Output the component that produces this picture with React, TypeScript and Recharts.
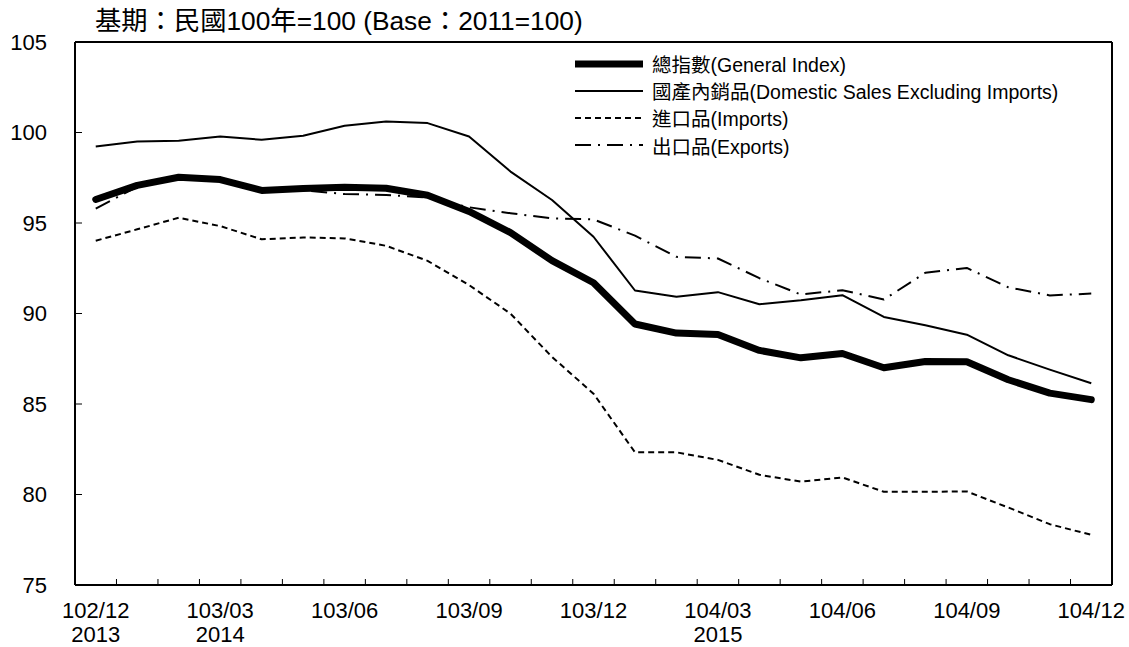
import React from 'react';
import { LineChart, Line, XAxis, YAxis, Legend } from 'recharts';

const FONT = '"Liberation Sans", Arial, "Noto Sans CJK TC", sans-serif';

const months = [
  '102/12', '103/01', '103/02', '103/03', '103/04', '103/05', '103/06', '103/07', '103/08',
  '103/09', '103/10', '103/11', '103/12', '104/01', '104/02', '104/03', '104/04', '104/05',
  '104/06', '104/07', '104/08', '104/09', '104/10', '104/11', '104/12',
];

// western year shown under the first labelled month of each year
const westernYears: Record<string, string> = { '102/12': '2013', '103/03': '2014', '104/03': '2015' };

const generalIndex = [
  96.3, 97.08, 97.53, 97.4, 96.8, 96.9, 96.98, 96.92, 96.53, 95.64, 94.47, 92.92, 91.7,
  89.42, 88.92, 88.84, 87.96, 87.55, 87.79, 87.0, 87.35, 87.33, 86.34, 85.6, 85.24,
];
const domesticSales = [
  99.23, 99.5, 99.54, 99.78, 99.6, 99.82, 100.37, 100.61, 100.52, 99.78, 97.84, 96.27, 94.24,
  91.27, 90.92, 91.18, 90.51, 90.73, 91.01, 89.81, 89.35, 88.83, 87.69, 86.9, 86.15,
];
const imports = [
  94.02, 94.65, 95.29, 94.83, 94.1, 94.2, 94.15, 93.74, 92.91, 91.57, 89.99, 87.6, 85.57,
  82.33, 82.33, 81.91, 81.09, 80.71, 80.94, 80.15, 80.15, 80.17, 79.28, 78.36, 77.77,
];
const exportsIdx = [
  95.8, 97.0, 97.62, 97.5, 96.85, 96.8, 96.6, 96.55, 96.4, 95.87, 95.54, 95.26, 95.2,
  94.3, 93.13, 93.04, 91.95, 91.05, 91.29, 90.77, 92.25, 92.52, 91.45, 91.0, 91.1,
];

const yTicks = [75, 80, 85, 90, 95, 100, 105];
// tick marks sit between months (category boundaries)
const boundaryTicks = months.slice(1).map((_, i) => i + 0.5);

const series = [
  { key: 'general', name: '總指數(General Index)', width: 7, dash: undefined as string | undefined },
  { key: 'domestic', name: '國產內銷品(Domestic Sales Excluding Imports)', width: 2, dash: undefined },
  { key: 'imports', name: '進口品(Imports)', width: 2, dash: '6 4' },
  { key: 'exports', name: '出口品(Exports)', width: 2, dash: '16 7 2 7' },
];

const data = months.map((m, i) => ({
  month: m,
  general: generalIndex[i],
  domestic: domesticSales[i],
  imports: imports[i],
  exports: exportsIdx[i],
}));

const HALF_BAND = 20.74;

function MonthTick({ x, y, payload }: any) {
  const year = westernYears[payload.value];
  return (
    <g>
      <text x={x} y={y + 33} textAnchor="middle" fontSize={22} fontFamily={FONT} fill="#000">
        {payload.value}
      </text>
      {year && (
        <text x={x} y={y + 57} textAnchor="middle" fontSize={22} fontFamily={FONT} fill="#000">
          {year}
        </text>
      )}
    </g>
  );
}

// tick marks only, no label
const NoLabel = () => <g />;

function renderLegend() {
  return (
    <div style={{ fontFamily: FONT, fontSize: 19.5, color: '#000' }}>
      {series.map((s) => (
        <div key={s.key} style={{ display: 'flex', alignItems: 'center', height: 27.2 }}>
          <svg width={68} height={20}>
            <line
              x1={0}
              y1={10}
              x2={68}
              y2={10}
              stroke="#000"
              strokeWidth={s.width}
              strokeDasharray={s.dash}
              strokeLinecap={s.width > 3 ? 'round' : 'butt'}
            />
          </svg>
          <span style={{ marginLeft: 9, whiteSpace: 'nowrap' }}>{s.name}</span>
        </div>
      ))}
    </div>
  );
}

export default function App() {
  return (
    <div style={{ position: 'absolute', left: 0, top: 0, width: 1129, height: 647, background: '#fff' }}>
      <div
        style={{
          position: 'absolute',
          left: 95,
          top: 7,
          fontFamily: FONT,
          fontSize: 26.3,
          lineHeight: '28px',
          color: '#000',
          whiteSpace: 'nowrap',
        }}
      >
        基期：民國100年=100 (Base：2011=100)
      </div>
      <LineChart width={1129} height={647} data={data} margin={{ top: 41, right: 16, left: 0, bottom: 0 }}>
        <XAxis
          xAxisId="marks"
          type="number"
          domain={[0, months.length - 1]}
          ticks={boundaryTicks}
          allowDataOverflow
          padding={{ left: HALF_BAND, right: HALF_BAND }}
          height={1}
          mirror
          tick={NoLabel}
          axisLine={false}
          tickSize={6}
          tickLine={{ stroke: '#000', strokeWidth: 1 }}
        />
        <XAxis
          xAxisId="cat"
          dataKey="month"
          type="category"
          interval={2}
          padding={{ left: HALF_BAND, right: HALF_BAND }}
          height={62}
          tickLine={false}
          tickSize={0}
          tickMargin={0}
          tick={<MonthTick />}
          axisLine={{ stroke: '#000', strokeWidth: 2 }}
        />
        <XAxis
          xAxisId="top"
          orientation="top"
          type="number"
          domain={[0, 1]}
          allowDataOverflow
          height={1}
          tick={false}
          tickLine={false}
          axisLine={{ stroke: '#000', strokeWidth: 2 }}
        />
        <YAxis
          yAxisId="v"
          domain={[75, 105]}
          ticks={yTicks}
          allowDataOverflow
          width={75}
          tickLine={false}
          tickSize={6}
          tickMargin={22}
          tick={{ fontSize: 22, fontFamily: FONT, fill: '#000' }}
          axisLine={{ stroke: '#000', strokeWidth: 2 }}
        />
        <YAxis
          yAxisId="vm"
          domain={[75, 105]}
          ticks={yTicks}
          allowDataOverflow
          width={1}
          mirror
          tick={NoLabel}
          axisLine={false}
          tickSize={7}
          tickLine={{ stroke: '#000', strokeWidth: 1 }}
        />
        <YAxis
          yAxisId="right"
          orientation="right"
          domain={[0, 1]}
          allowDataOverflow
          width={1}
          tick={false}
          tickLine={false}
          axisLine={{ stroke: '#000', strokeWidth: 2 }}
        />
        <Legend
          layout="vertical"
          align="center"
          verticalAlign="middle"
          content={renderLegend}
          wrapperStyle={{ left: 575, top: 50, width: 540, height: 110 }}
        />
        {series.map((s) => (
          <Line
            key={s.key}
            xAxisId="cat"
            yAxisId="v"
            dataKey={s.key}
            name={s.name}
            type="linear"
            stroke="#000"
            strokeWidth={s.width}
            strokeDasharray={s.dash}
            strokeLinejoin="round"
            strokeLinecap={s.width > 3 ? 'round' : 'butt'}
            dot={false}
            activeDot={false}
            isAnimationActive={false}
          />
        ))}
      </LineChart>
    </div>
  );
}
